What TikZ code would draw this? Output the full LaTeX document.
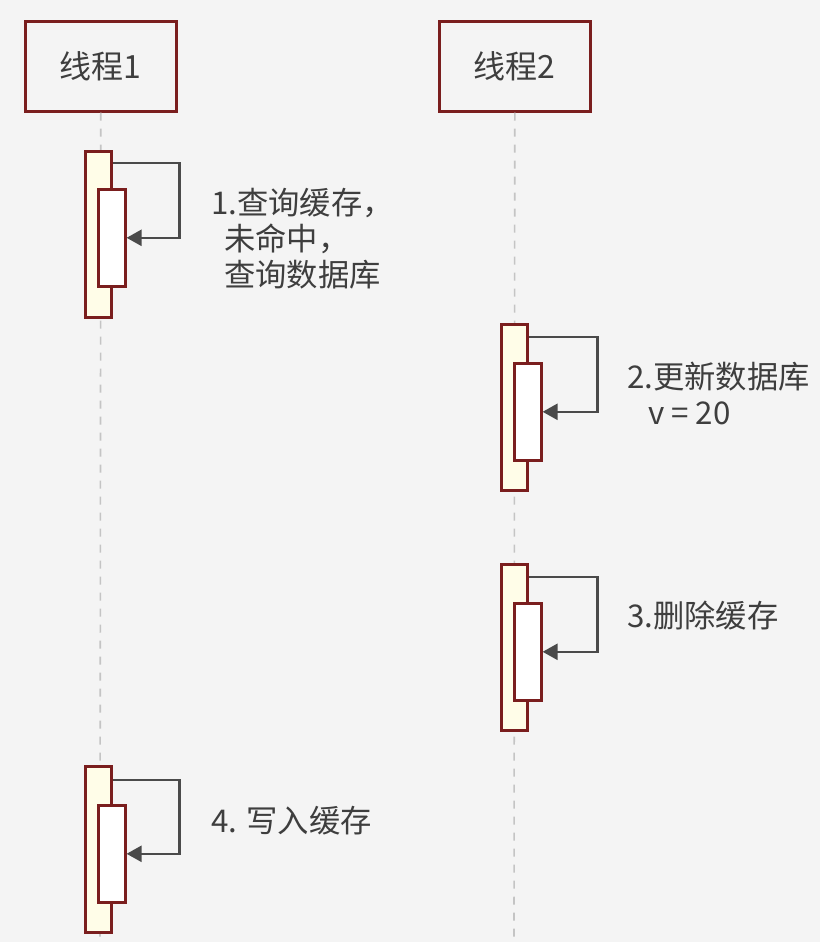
\documentclass[tikz,border=0pt]{standalone}
\usepackage{fontspec}
\setmainfont{Noto Sans CJK SC}
\usetikzlibrary{calc,arrows.meta}
\definecolor{bg}{HTML}{F4F4F4}
\definecolor{bord}{HTML}{7A1E1E}
\definecolor{actfill}{HTML}{FFFDE8}
\definecolor{txt}{HTML}{3E3E3E}
\definecolor{arrowc}{HTML}{4A4A4A}
\definecolor{lifec}{HTML}{C4C4C4}
\tikzset{
  header/.style={draw=bord, line width=2.6pt, fill=bg, minimum width=151pt, minimum height=90pt, inner sep=0pt, anchor=north west, text=txt, font=\fontsize{32}{36}\selectfont},
  actout/.style={draw=bord, line width=2.6pt, fill=actfill, minimum width=26pt, minimum height=166pt, inner sep=0pt, anchor=north west},
  actin/.style={draw=bord, line width=2.6pt, fill=white, minimum width=27pt, minimum height=97pt, inner sep=0pt, anchor=north west},
  lifeline/.style={draw=lifec, line width=1.6pt, dash pattern=on 8pt off 8pt},
  msg/.style={draw=arrowc, line width=2.6pt, -{Triangle[length=15pt,width=16pt]}},
  lbl/.style={anchor=base west, inner sep=0pt, text=txt, font=\fontsize{31.3}{36}\selectfont},
}
\begin{document}
\begin{tikzpicture}[x=1pt,y=-1pt]
\fill[bg] (0,0) rectangle (820,942);
\useasboundingbox (0,0) rectangle (820,942);
% headers
\node[header] (p1) at (24,20) {线程1};
\node[header] (p2) at (438,20) {线程2};
% lifelines
\coordinate (e1) at (100,942);
\coordinate (e2) at (514,942);
\draw[lifeline] (p1.south) -- (e1);
\draw[lifeline] (p2.south) -- (e2);
% activation 1
\node[actout] (a1o) at (84,150) {};
\node[actin] (a1i) at (97,188) {};
\draw[msg] ($(a1o.north east)+(0,13)$) -- ++(67,0) |- (a1i.east);
\node[lbl] (l1a) at (211,214) {1.查询缓存，};
\node[lbl] (l1b) at (224,250) {未命中，};
\node[lbl] (l1c) at (224,286) {查询数据库};
% activation 2
\node[actout] (a2o) at (500,323) {};
\node[actin] (a2i) at (513,362) {};
\draw[msg] ($(a2o.north east)+(0,14)$) -- ++(69,0) |- (a2i.east);
\node[lbl] (l2a) at (627,388) {2.更新数据库};
\node[lbl] (l2b) at (648,424) {v = 20};
% activation 3
\node[actout] (a3o) at (500,563) {};
\node[actin] (a3i) at (513,602) {};
\draw[msg] ($(a3o.north east)+(0,14)$) -- ++(69,0) |- (a3i.east);
\node[lbl] (l3) at (627,627) {3.删除缓存};
% activation 4
\node[actout] (a4o) at (84,765) {};
\node[actin] (a4i) at (97,804) {};
\draw[msg] ($(a4o.north east)+(0,15)$) -- ++(67,0) |- (a4i.east);
\node[lbl] (l4) at (211,832) {4. 写入缓存};
\end{tikzpicture}
\end{document}
